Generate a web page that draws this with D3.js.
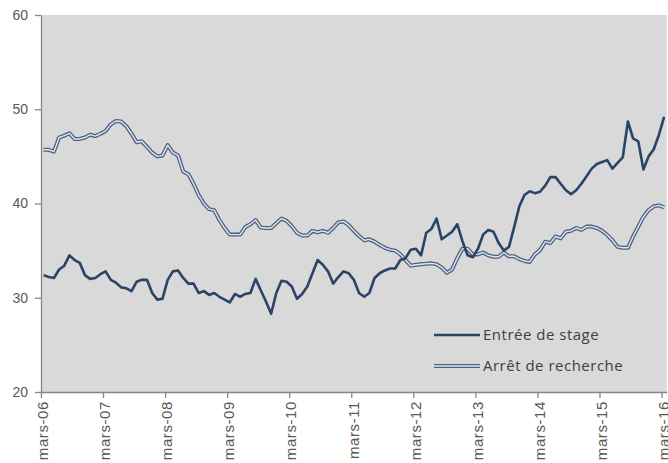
<!DOCTYPE html>
<html>
<head>
<meta charset="utf-8">
<script src="https://cdn.jsdelivr.net/npm/d3@7"></script>
<style>
  body { margin: 0; background: #fff; }
  svg { display: block; font-family: "Open Sans", sans-serif; }
</style>
</head>
<body>
<svg id="chart"></svg>
<script>
const width = 668;
const height = 463;
const margin = { top: 15, right: 1.3, bottom: 71, left: 41 };
const innerWidth = width - margin.left - margin.right;
const innerHeight = height - margin.top - margin.bottom;

// tick labels, one per year (every 12 months)
const tickLabels = ['mars-06', 'mars-07', 'mars-08', 'mars-09', 'mars-10', 'mars-11',
  'mars-12', 'mars-13', 'mars-14', 'mars-15', 'mars-16'];
const yTicks = [20, 30, 40, 50, 60];

// monthly values, mars-06 .. mars-16
const entree = [
  32.4, 32.2, 32.1, 33.0, 33.4, 34.5, 34.0, 33.7, 32.4, 32.0, 32.1, 32.5,
  32.8, 31.9, 31.6, 31.1, 31.0, 30.7, 31.7, 31.9, 31.9, 30.5, 29.8, 29.9,
  31.9, 32.8, 32.9, 32.1, 31.5, 31.5, 30.5, 30.7, 30.3, 30.5, 30.1, 29.8,
  29.5, 30.4, 30.1, 30.4, 30.5, 32.0, 30.8, 29.6, 28.3, 30.5, 31.8, 31.7,
  31.2, 29.9, 30.4, 31.2, 32.6, 34.0, 33.5, 32.8, 31.5, 32.2, 32.8, 32.6,
  31.9, 30.5, 30.1, 30.5, 32.1, 32.6, 32.9, 33.1, 33.1, 34.0, 34.2, 35.1,
  35.2, 34.5, 36.9, 37.3, 38.4, 36.2, 36.6, 37.0, 37.8, 36.0, 34.5, 34.3,
  35.2, 36.7, 37.2, 37.0, 35.8, 35.0, 35.4, 37.5, 39.7, 40.9, 41.3, 41.1,
  41.25, 41.9, 42.8, 42.8, 42.1, 41.4, 41.0, 41.4, 42.1, 42.9, 43.7, 44.2,
  44.4, 44.6, 43.7, 44.3, 44.9, 48.7, 46.9, 46.6, 43.6, 45.0, 45.75, 47.3,
  49.2
];
const arret = [
  45.7, 45.7, 45.5, 47.0, 47.2, 47.45, 46.85, 46.85, 47.0, 47.3, 47.15, 47.4,
  47.7, 48.4, 48.75, 48.7, 48.2, 47.4, 46.5, 46.6, 46.0, 45.4, 45.0, 45.1,
  46.2, 45.4, 45.1, 43.4, 43.1, 42.1, 40.9, 40.0, 39.4, 39.3, 38.25, 37.4,
  36.7, 36.7, 36.7, 37.5, 37.8, 38.25, 37.45, 37.4, 37.4, 37.9, 38.4, 38.15,
  37.6, 36.9, 36.6, 36.6, 37.1, 36.95, 37.1, 36.9, 37.4, 38.0, 38.1, 37.7,
  37.1, 36.55, 36.1, 36.2, 35.95, 35.6, 35.3, 35.1, 35.0, 34.6, 34.0, 33.4,
  33.5, 33.55, 33.6, 33.65, 33.55, 33.2, 32.65, 33.0, 34.2, 35.2, 35.2, 34.6,
  34.6, 34.8, 34.5, 34.35, 34.35, 34.8, 34.4, 34.4, 34.1, 33.9, 33.8, 34.6,
  35.05, 35.95, 35.8, 36.5, 36.3, 37.0, 37.1, 37.4, 37.2, 37.55, 37.55, 37.4,
  37.1, 36.65, 36.1, 35.4, 35.3, 35.3, 36.5, 37.55, 38.6, 39.3, 39.7, 39.8,
  39.6
];

const navy = '#2a4467';
const axisColor = '#868686';
const textColor = '#595959';

const svg = d3.select('#chart')
  .attr('width', width)
  .attr('height', height);

const g = svg.append('g')
  .attr('transform', `translate(${margin.left}, ${margin.top})`);

// months sit in the middle of their slot, ticks on the slot edges
const x = d3.scaleLinear()
  .domain([0, entree.length])
  .range([0, innerWidth]);

const y = d3.scaleLinear()
  .domain([20, 60])
  .range([innerHeight, 0]);

g.append('rect')
  .attr('width', innerWidth)
  .attr('height', innerHeight)
  .attr('fill', '#d9d9d9');

// axes
const yAxis = g.append('g')
  .call(d3.axisLeft(y).tickValues(yTicks).tickSize(6).tickPadding(7).tickSizeOuter(0));

const xAxis = g.append('g')
  .attr('transform', `translate(0, ${innerHeight})`)
  .call(d3.axisBottom(x)
    .tickValues(d3.range(0, entree.length, 12))
    .tickFormat((d, i) => tickLabels[i])
    .tickSize(6)
    .tickSizeOuter(0));

[xAxis, yAxis].forEach(a => {
  a.selectAll('.domain').attr('stroke', axisColor).attr('stroke-width', 1.3);
  a.selectAll('.tick line').attr('stroke', axisColor).attr('stroke-width', 1.3);
  a.selectAll('text').attr('fill', textColor).style('font-size', '14px');
});

xAxis.selectAll('text')
  .attr('transform', 'rotate(-90)')
  .attr('text-anchor', 'end')
  .attr('x', -9)
  .attr('y', 1.5)
  .attr('dy', '0.35em')
  .style('font-size', '15px')
  .style('letter-spacing', '0.6px');

// lines
const line = d3.line()
  .x((d, i) => x(i + 0.5))
  .y(d => y(d));

g.append('path')
  .datum(arret)
  .attr('fill', 'none')
  .attr('stroke', '#4a6182')
  .attr('stroke-width', 4)
  .attr('stroke-linejoin', 'round')
  .attr('d', line);

g.append('path')
  .datum(arret)
  .attr('fill', 'none')
  .attr('stroke', '#e3e7ec')
  .attr('stroke-width', 1.4)
  .attr('stroke-linejoin', 'round')
  .attr('d', line);

g.append('path')
  .datum(entree)
  .attr('fill', 'none')
  .attr('stroke', navy)
  .attr('stroke-width', 2.6)
  .attr('stroke-linejoin', 'round')
  .attr('d', line);

// legend
const legend = svg.append('g').attr('transform', 'translate(434, 335)');

legend.append('line')
  .attr('x1', 0).attr('x2', 46).attr('y1', 0).attr('y2', 0)
  .attr('stroke', navy).attr('stroke-width', 2.6);
legend.append('line')
  .attr('x1', 0).attr('x2', 46).attr('y1', 31).attr('y2', 31)
  .attr('stroke', '#4a6182').attr('stroke-width', 4);
legend.append('line')
  .attr('x1', 0).attr('x2', 46).attr('y1', 31).attr('y2', 31)
  .attr('stroke', '#e3e7ec').attr('stroke-width', 1.4);

legend.selectAll('text')
  .data(['Entrée de stage', 'Arrêt de recherche'])
  .enter()
  .append('text')
  .attr('x', 49)
  .attr('y', (d, i) => i * 31)
  .attr('dy', '0.35em')
  .attr('fill', '#404040')
  .style('font-size', '15px')
  .style('letter-spacing', '0.5px')
  .text(d => d);
</script>
</body>
</html>
